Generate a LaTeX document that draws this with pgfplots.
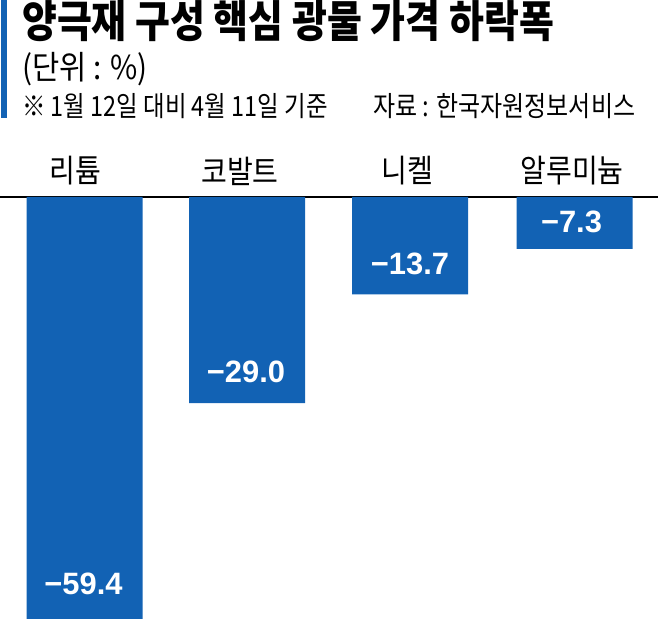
\documentclass[border=0pt]{standalone}
\usepackage{pgfplots}
\pgfplotsset{compat=1.18}
\usepackage{fontspec}
\setmainfont{Liberation Sans}
\newfontfamily\kr{Noto Sans CJK KR}
\definecolor{barblue}{RGB}{18,98,180}
\begin{document}
\begin{tikzpicture}[x=1bp,y=1bp]
\useasboundingbox (0,0) rectangle (658,619);
\fill[barblue] (1,501) rectangle (7,619);
\node[anchor=base west, inner sep=0] at (22,581) {\scalebox{0.865}[1]{\fontsize{44}{44}\selectfont\kr\bfseries 양극재 구성 핵심 광물 가격 하락폭}};
\node[anchor=base west, inner sep=0] at (22,539) {\scalebox{0.9}[1]{\fontsize{33}{33}\selectfont\kr (단위 : \%)}};
\node[anchor=base west, inner sep=0] at (22,502) {\scalebox{0.84}[1]{\fontsize{28}{28}\selectfont\kr ※ 1월 12일 대비 4월 11일 기준}};
\node[anchor=base west, inner sep=0] at (373,502) {\scalebox{0.86}[1]{\fontsize{28}{28}\selectfont\kr 자료 : 한국자원정보서비스}};
\begin{axis}[
  at={(0,0)}, anchor=south west,
  scale only axis, width=658bp, height=422bp,
  xmin=0, xmax=658, ymin=-59.4, ymax=0,
  axis x line=top, hide y axis,
  axis line style={-, line width=2.5bp, black},
  major tick length=0pt,
  xtick={75,240,407,572},
  xticklabels={리튬,코발트,니켈,알루미늄},
  xticklabel style={font=\kr\fontsize{32}{32}\selectfont, xscale=0.88, yshift=8bp},
  clip=false,
]
\addplot[ybar, bar width=116, fill=barblue, draw=none] coordinates {
  (84.5,-59.4)
  (247,-29.0)
  (410,-13.7)
  (574.5,-7.3)
};
\addplot[draw=none, mark=none, point meta=explicit symbolic,
  nodes near coords,
  every node near coord/.append style={font=\bfseries\fontsize{31}{31}\selectfont, text=white, inner sep=0pt, anchor=south}]
coordinates {
  (83.5,-56.02) [−59.4]
  (246,-26.18) [−29.0]
  (410,-10.98) [−13.7]
  (571.5,-5.07) [−7.3]
};
\end{axis}
\end{tikzpicture}
\end{document}
